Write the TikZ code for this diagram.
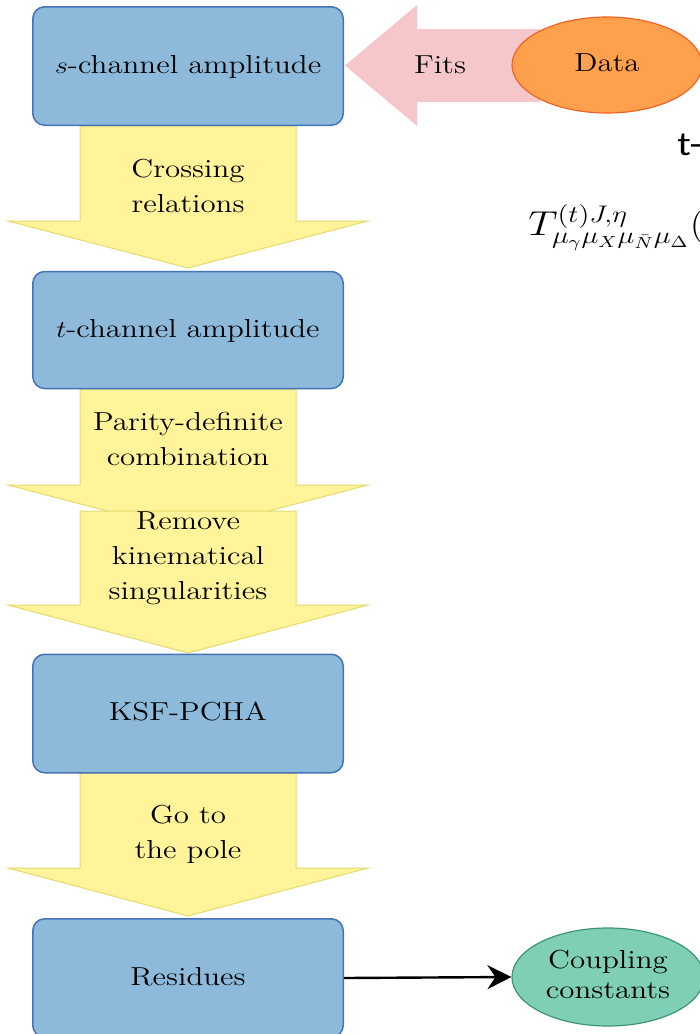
\documentclass[tikz,border=0pt]{standalone}
\usepackage{fontspec}
\newfontfamily\calib{Carlito}
\usepackage{graphicx}
\usetikzlibrary{arrows.meta,shapes.geometric}
\definecolor{boxfill}{RGB}{141,185,218}
\definecolor{boxline}{RGB}{70,114,184}
\definecolor{yfill}{RGB}{255,244,153}
\definecolor{yline}{RGB}{228,218,110}
\definecolor{pinkfill}{RGB}{245,199,203}
\definecolor{orfill}{RGB}{255,160,76}
\definecolor{orline}{RGB}{240,100,40}
\definecolor{grfill}{RGB}{127,206,182}
\definecolor{grline}{RGB}{60,150,115}
\newcommand{\sx}[1]{\scalebox{1.19}[1]{\begin{tabular}[t]{@{}c@{}}#1\end{tabular}}}
\newcommand{\sxc}[1]{\scalebox{1.19}[1]{\begin{tabular}{@{}c@{}}#1\end{tabular}}}
\begin{document}
\begin{tikzpicture}[x=0.5pt,y=-0.5pt,
  stepbox/.style={draw=boxline, fill=boxfill, line width=0.75pt, rounded corners=6pt,
    minimum width=155.25pt, minimum height=59.25pt, inner sep=0pt, font=\fontsize{13}{17.5}\selectfont},
  lbl/.style={inner sep=0pt, font=\fontsize{13}{17.5}\selectfont},
  yarr/.style={fill=yfill, draw=yline, line width=0.5pt},
  oval/.style={ellipse, inner sep=0pt, line width=0.6pt, font=\fontsize{13}{16}\selectfont}]
\useasboundingbox (0,0) rectangle (700,1034);
\clip (0,0) rectangle (700,1034);
\fill[white] (0,0) rectangle (700,1034);

% yellow block arrows
\path[yarr] (80,126) -- (296,126) -- (296,221) -- (368,221) -- (188,268) -- (8,221) -- (80,221) -- cycle;
\path[yarr] (80,389) -- (296,389) -- (296,485) -- (368,485) -- (188,532) -- (8,485) -- (80,485) -- cycle;
\path[yarr] (80,511) -- (296,511) -- (296,605) -- (368,605) -- (188,653) -- (8,605) -- (80,605) -- cycle;
\path[yarr] (80,773) -- (296,773) -- (296,868) -- (368,868) -- (188,916) -- (8,868) -- (80,868) -- cycle;

% boxes
\node[stepbox] (sch) at (188,66) {\sxc{$s$-channel amplitude}};
\node[stepbox, minimum height=58.5pt] (tch) at (188,330) {\sxc{$t$-channel amplitude}};
\node[stepbox] (ksf) at (188,713.5) {\sxc{KSF-PCHA}};
\node[stepbox] (res) at (188,978) {\sxc{Residues}};

% arrow labels
\node[lbl, anchor=base] (l1) at (188,177) {\sx{Crossing\\relations}};
\node[lbl, anchor=base] (l2) at (188,430) {\sx{Parity-definite\\combination}};
\node[lbl, anchor=base] (l3) at (188,529) {\sx{Remove\\kinematical\\singularities}};
\node[lbl, anchor=base] (l4) at (188,823) {\sx{Go to\\the pole}};

% fits arrow
\path[fill=pinkfill] (345,65.5) -- (417,5) -- (417,29) -- (540,29) -- (540,102) -- (417,102) -- (417,126) -- cycle;
\node[lbl] (fits) at (440,66) {\sxc{Fits}};

% ellipses
\node[oval, draw=orline, fill=orfill, minimum width=95pt, minimum height=48pt] (data) at (607,65) {\sxc{Data}};
\node[oval, draw=grline, fill=grfill, minimum width=96pt, minimum height=49pt] (coup) at (608,977) {\sxc{Coupling\\[-1pt]constants}};

\draw[line width=1.2pt, -{Stealth[length=12pt,width=12pt,inset=4pt]}] (res.east) -- (coup.west);

% cropped slide text
\node[anchor=base west, inner sep=0pt, font=\calib\fontsize{17}{20}\selectfont] (tl) at (677,155) {\scalebox{1.19}[1]{t-}};
\node[anchor=base west, inner sep=0pt, font=\fontsize{16.5}{18}\selectfont] (formula) at (528,235)
  {\scalebox{1.19}[1]{$T^{(t)J,\eta}_{\mu_\gamma\mu_X\mu_{\bar N}\mu_\Delta}($}};
\end{tikzpicture}
\end{document}
